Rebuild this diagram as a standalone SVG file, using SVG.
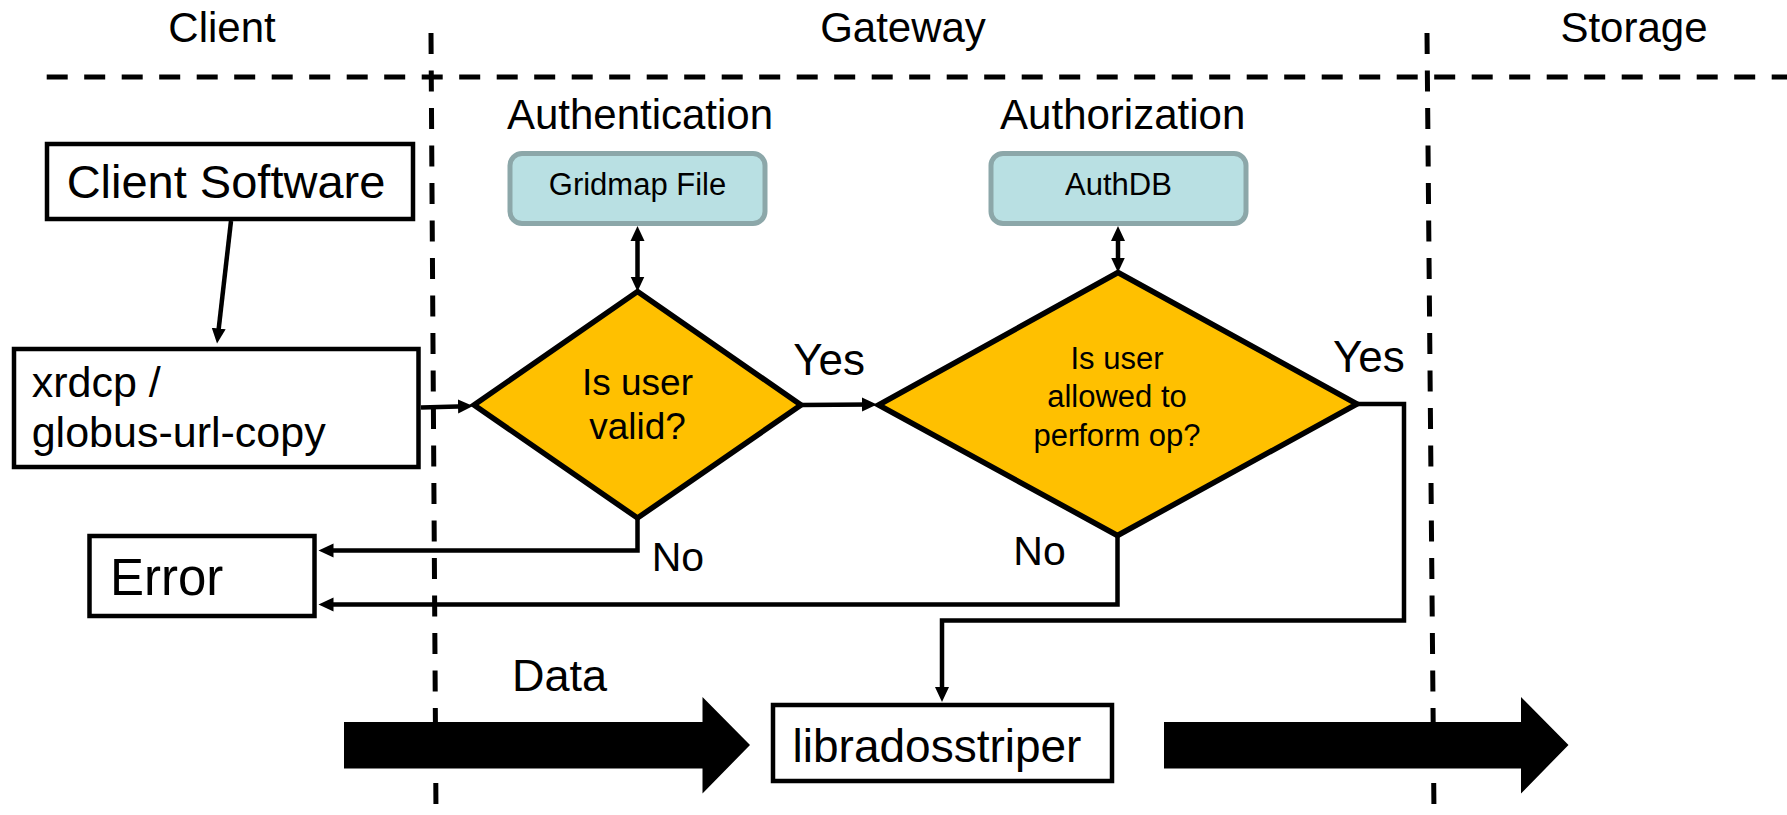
<svg xmlns="http://www.w3.org/2000/svg" width="1787" height="815" viewBox="0 0 1787 815">
<style>
text{font-family:"Liberation Sans",Arial,sans-serif;fill:#000}
.box{fill:#fff;stroke:#000;stroke-width:4.5}
.db{fill:#B9E0E3;stroke:#8CA7A9;stroke-width:5}
.dia{fill:#FFC000;stroke:#000;stroke-width:5.5;stroke-linejoin:miter}
.con{fill:none;stroke:#000;stroke-width:4.5}
.dash{fill:none;stroke:#000;stroke-width:5;stroke-dasharray:21 16.5}
.big{fill:#000}
.mid{text-anchor:middle}
</style>
<defs>
<marker id="ah" markerUnits="userSpaceOnUse" markerWidth="16" markerHeight="15" refX="9" refY="7" orient="auto-start-reverse" viewBox="0 0 16 14">
<path d="M0,0 L15,7 L0,14 z" fill="#000"/>
</marker>
</defs>
<g id="lanes">
<line class="dash" x1="46.7" y1="77" x2="1787" y2="77"/>
<line class="dash" x1="431" y1="33" x2="436" y2="815"/>
<line class="dash" x1="1427" y1="33" x2="1434" y2="815"/>
<text x="222" y="42" font-size="42" class="mid">Client</text>
<text x="903" y="42" font-size="42" class="mid">Gateway</text>
<text x="1634" y="42" font-size="42" class="mid">Storage</text>
<text x="640" y="128.5" font-size="42" class="mid">Authentication</text>
<text x="1122.7" y="128.5" font-size="42" class="mid">Authorization</text>
</g>
<g id="connectors">
<line class="con" x1="231" y1="221" x2="217.7" y2="337.5" marker-end="url(#ah)"/>
<line class="con" x1="421" y1="407.5" x2="467" y2="406.2" marker-end="url(#ah)"/>
<line class="con" x1="637.5" y1="232" x2="637.5" y2="285.5" marker-start="url(#ah)" marker-end="url(#ah)"/>
<line class="con" x1="801" y1="405" x2="871" y2="404.5" marker-end="url(#ah)"/>
<line class="con" x1="1118" y1="232" x2="1118" y2="266.5" marker-start="url(#ah)" marker-end="url(#ah)"/>
<polyline class="con" points="637.5,518 637.5,550.5 324.5,550.5" marker-end="url(#ah)"/>
<polyline class="con" points="1117.5,535 1117.5,604.5 324.5,604.5" marker-end="url(#ah)"/>
<polyline class="con" points="1357,404 1404,404 1404,620.5 942,620.5 942,696" marker-end="url(#ah)"/>
<text x="793.3" y="375" font-size="44">Yes</text>
<text x="1333" y="371.7" font-size="44">Yes</text>
<text x="651.7" y="570.7" font-size="41">No</text>
<text x="1013.3" y="565" font-size="41">No</text>
</g>
<g id="client-software">
<rect class="box" x="47" y="144" width="366" height="75"/>
<text x="226" y="198" font-size="47" class="mid">Client Software</text>
</g>
<g id="xrdcp">
<rect class="box" x="14" y="349" width="404.5" height="118"/>
<text x="31.7" y="396.7" font-size="43">xrdcp /</text>
<text x="31.7" y="446.7" font-size="43">globus-url-copy</text>
</g>
<g id="error">
<rect class="box" x="89.5" y="536" width="225" height="80"/>
<text x="110" y="595" font-size="51">Error</text>
</g>
<g id="gridmap">
<rect class="db" x="510" y="153.5" width="255" height="70" rx="12"/>
<text x="637.5" y="195" font-size="31" class="mid">Gridmap File</text>
</g>
<g id="authdb">
<rect class="db" x="991" y="153.5" width="255" height="70" rx="12"/>
<text x="1118.5" y="195" font-size="31" class="mid">AuthDB</text>
</g>
<g id="valid">
<polygon class="dia" points="637.5,291.5 801,405 637.5,518 474,405"/>
<text x="637.5" y="395" font-size="37" class="mid">Is user</text>
<text x="637.5" y="439.3" font-size="37" class="mid">valid?</text>
</g>
<g id="allowed">
<polygon class="dia" points="1118,272.5 1357,404 1117.5,535.5 878.5,405"/>
<text x="1117" y="368.5" font-size="31" class="mid">Is user</text>
<text x="1117" y="407" font-size="31" class="mid">allowed to</text>
<text x="1117" y="445.5" font-size="31" class="mid">perform op?</text>
</g>
<g id="data-flow">
<polygon class="big" points="344,722 702.5,722 702.5,697 750,745 702.5,793.5 702.5,768.5 344,768.5"/>
<polygon class="big" points="1164,722 1521,722 1521,697 1568.5,745 1521,793.5 1521,768.5 1164,768.5"/>
<text x="512" y="690.5" font-size="45">Data</text>
</g>
<g id="libradosstriper">
<rect class="box" x="773" y="705" width="339" height="76"/>
<text x="937" y="761.7" font-size="46" class="mid">libradosstriper</text>
</g>
</svg>
